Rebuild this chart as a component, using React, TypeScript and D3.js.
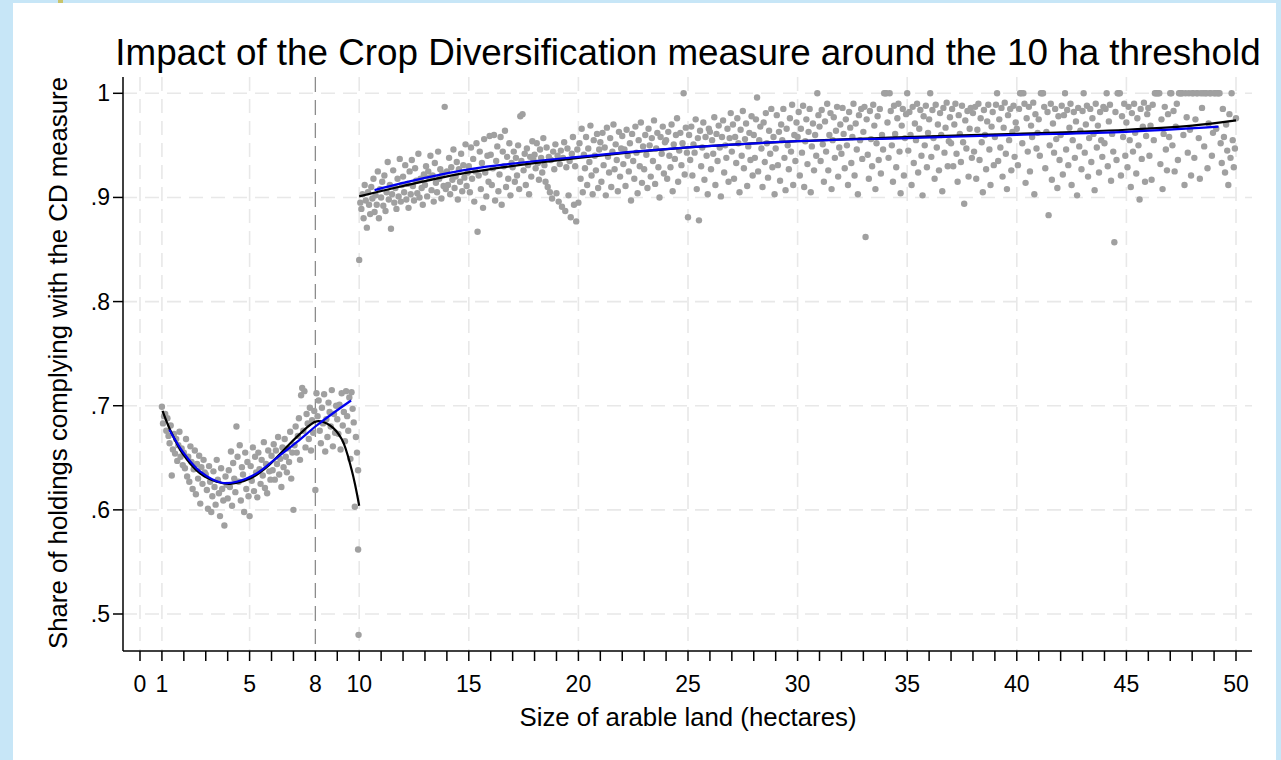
import React from "react";
import * as d3 from "d3";

// ---- data ----
const titleText = "Impact of the Crop Diversification measure around the 10 ha threshold";
const yTitle = "Share of holdings complying with the CD measure";
const xTitle = "Size of arable land (hectares)";

const xTickValues = d3.range(0, 51);
const xTickLabels = [0, 1, 5, 8, 10, 15, 20, 25, 30, 35, 40, 45, 50];
const yTickValues = [0.5, 0.6, 0.7, 0.8, 0.9, 1];
const yTickLabels = [".5", ".6", ".7", ".8", ".9", "1"];
const threshold = 8;

// binned means below 10 ha, x = 1 + 0.05*i, values in thousandths
const leftY = [
  699, 683, 690, 692, 676, 688, 671, 664, 681, 633, 658, 673, 654, 668, 647, 662, 675, 651, 659, 643,
  655, 640, 668, 632, 651, 627, 661, 646, 620, 639, 657, 615, 644, 630, 652, 606, 641, 625, 648, 636,
  634, 619, 601, 642, 627, 598, 613, 637, 622, 605, 648, 629, 616, 594, 640, 620, 609, 585, 632, 624,
  611, 638, 622, 656, 604, 645, 630, 617, 680, 651, 627, 662, 609, 641, 634, 598, 655, 620, 646, 613,
  594, 642, 628, 660, 618, 651, 636, 612, 655, 639, 625, 648, 633, 665, 621, 644, 616, 657, 637, 629,
  652, 638, 663, 629, 657, 644, 670, 634, 649, 622, 660, 641, 668, 651, 636, 659, 646, 675, 630, 655,
  600, 662, 680, 655, 671, 688, 648, 710, 717, 676, 714, 660, 692, 683, 668, 698, 657, 686, 674, 695,
  619, 712, 690, 705, 676, 664, 698, 683, 711, 656, 687, 670, 703, 694, 680, 715, 661, 692, 674, 700,
  687, 673, 701, 658, 712, 681, 694, 666, 714, 690, 676, 708, 649, 713, 697, 684, 603, 670, 655, 638,
];
const edgeX = [9.95, 9.97];
const edgeY = [562, 480];

// binned means from 10 ha, x = 10 + 0.05*i, values in thousandths
const rightY = [
  840, 895, 889, 903, 880, 912, 897, 871, 905, 893, 884, 910, 899, 918, 886, 902, 893, 925, 880, 908,
  900, 915, 892, 921, 887, 905, 934, 898, 912, 870, 903, 926, 895, 909, 889, 918, 901, 937, 896, 912,
  920, 905, 931, 898, 913, 890, 925, 903, 936, 911, 897, 928, 916, 904, 942, 900, 918, 909, 893, 922,
  912, 930, 901, 925, 919, 940, 907, 921, 896, 933, 914, 905, 944, 918, 927, 899, 923, 911, 987, 908,
  925, 912, 938, 903, 929, 917, 946, 909, 920, 934, 898, 927, 915, 942, 906, 931, 919, 951, 911, 924,
  930, 905, 948, 918, 937, 896, 925, 952, 867, 921, 944, 908, 933, 890, 956, 924, 901, 940, 915, 959,
  941, 912, 928, 960, 897, 935, 949, 906, 922, 958, 893, 944, 930, 964, 910, 939, 918, 952, 902, 933,
  929, 944, 915, 938, 921, 950, 908, 978, 935, 980, 926, 942, 912, 947, 931, 903, 939, 920, 954, 936,
  941, 928, 952, 933, 917, 946, 938, 924, 957, 931, 915, 948, 910, 939, 905, 936, 899, 944, 927, 951,
  904, 940, 896, 932, 945, 891, 938, 953, 887, 929, 947, 902, 935, 881, 942, 958, 893, 930, 877, 946,
  895, 952, 918, 966, 905, 941, 928, 958, 912, 947, 934, 969, 921, 903, 955, 940, 926, 961, 909, 946,
  953, 915, 962, 931, 948, 902, 967, 939, 924, 957, 910, 944, 970, 927, 951, 936, 906, 963, 920, 947,
  959, 932, 946, 911, 965, 940, 925, 952, 897, 961, 935, 918, 968, 943, 904, 955, 930, 972, 914, 949,
  927, 960, 941, 909, 966, 950, 920, 957, 935, 974, 913, 947, 962, 929, 900, 958, 942, 968, 923, 953,
  955, 918, 963, 940, 929, 970, 906, 951, 937, 960, 976, 915, 945, 962, 931, 952, 1000, 922, 967, 943,
  881, 960, 936, 968, 921, 951, 943, 975, 908, 957, 878, 964, 930, 948, 972, 917, 958, 940, 903, 966,
  963, 927, 955, 942, 977, 912, 961, 935, 969, 948, 901, 958, 974, 924, 950, 938, 966, 915, 957, 981,
  944, 970, 918, 958, 933, 976, 952, 905, 965, 940, 983, 928, 956, 971, 911, 949, 962, 936, 978, 921,
  960, 938, 975, 996, 925, 955, 968, 947, 910, 972, 934, 981, 952, 919, 964, 942, 985, 929, 958, 903,
  947, 979, 931, 963, 916, 970, 955, 985, 938, 907, 966, 950, 927, 976, 944, 989, 912, 960, 935, 972,
  958, 982, 921, 966, 943, 988, 910, 954, 975, 932, 963, 985, 905, 949, 971, 926, 960, 940, 1000, 979,
  968, 935, 984, 951, 915, 973, 944, 990, 926, 960, 981, 908, 955, 977, 938, 964, 987, 920, 948, 970,
  942, 986, 961, 928, 975, 950, 912, 982, 967, 933, 958, 990, 921, 971, 946, 903, 979, 955, 985, 937,
  963, 987, 862, 975, 941, 918, 983, 956, 930, 989, 969, 908, 952, 978, 936, 985, 923, 960, 946, 1000,
  1000, 1000, 972, 938, 1000, 983, 950, 915, 988, 961, 929, 976, 990, 944, 904, 969, 985, 921, 957, 980,
  1000, 945, 982, 960, 912, 987, 933, 971, 955, 990, 924, 966, 984, 940, 902, 978, 950, 988, 929, 962,
  975, 1000, 939, 984, 957, 918, 989, 948, 970, 926, 981, 960, 906, 986, 943, 967, 991, 930, 954, 977,
  952, 985, 930, 970, 990, 942, 915, 979, 961, 934, 988, 953, 894, 974, 947, 983, 920, 966, 986, 938,
  981, 944, 987, 918, 965, 990, 936, 976, 953, 905, 984, 960, 927, 973, 989, 946, 912, 968, 982, 931,
  958, 989, 1000, 935, 975, 948, 986, 920, 967, 991, 942, 908, 979, 955, 985, 926, 963, 988, 939, 972,
  966, 931, 985, 1000, 1000, 952, 1000, 990, 914, 976, 944, 987, 925, 969, 958, 991, 903, 980, 947, 962,
  975, 940, 1000, 1000, 1000, 987, 928, 963, 982, 883, 950, 990, 917, 971, 943, 985, 956, 909, 978, 936,
  960, 988, 922, 979, 1000, 946, 984, 931, 967, 990, 912, 955, 982, 938, 973, 902, 986, 949, 964, 927,
  983, 1000, 943, 970, 988, 920, 957, 985, 934, 976, 961, 907, 990, 948, 969, 924, 982, 955, 939, 987,
  952, 985, 1000, 930, 973, 989, 916, 961, 944, 857, 982, 936, 1000, 1000, 1000, 921, 978, 958, 990, 940,
  972, 929, 987, 955, 910, 981, 944, 990, 962, 923, 976, 950, 898, 985, 937, 968, 991, 915, 959, 980,
  986, 940, 969, 917, 989, 955, 1000, 1000, 1000, 1000, 1000, 932, 975, 908, 961, 987, 946, 926, 980, 958,
  1000, 1000, 950, 983, 925, 968, 990, 936, 1000, 1000, 1000, 1000, 960, 912, 1000, 977, 943, 1000, 965, 921,
  1000, 1000, 938, 975, 1000, 1000, 957, 918, 1000, 986, 1000, 949, 1000, 1000, 928, 971, 1000, 1000, 940, 962,
  1000, 1000, 966, 1000, 1000, 1000, 952, 933, 985, 958, 924, 970, 945, 912, 980, 938, 1000, 955, 929, 947,
  976,
];

// polynomial fit (black) and local fit (blue)
const blackLeftX = [1.03, 1.37, 1.98, 2.74, 3.5, 4.1, 5.02, 5.78, 6.54, 7.3, 8.06, 8.67, 9.2, 9.66, 10.0];
const blackLeftY = [0.695, 0.677, 0.653, 0.635, 0.627, 0.625, 0.63, 0.641, 0.657, 0.673, 0.685, 0.681, 0.668, 0.638, 0.604];
const blueLeftX = [1.34, 1.98, 2.74, 3.73, 4.41, 5.32, 6.24, 7.15, 8.06, 8.82, 9.63];
const blueLeftY = [0.677, 0.655, 0.637, 0.626, 0.627, 0.635, 0.65, 0.665, 0.681, 0.693, 0.705];
const blackRightX = [10, 12, 15, 20, 25, 30, 35, 40, 45, 48, 50];
const blackRightY = [0.901, 0.911, 0.924, 0.938, 0.948, 0.954, 0.958, 0.961, 0.965, 0.969, 0.974];
const blueRightX = [10.7, 12, 15, 20, 25, 30, 35, 40, 45, 49.2];
const blueRightY = [0.907, 0.914, 0.927, 0.939, 0.948, 0.954, 0.957, 0.96, 0.963, 0.968];

// ---- layout ----
const W = 1281;
const H = 760;
const plot = { left: 123, right: 1252, top: 77, bottom: 651 };
const FONT = "'Liberation Sans', Arial, Helvetica, sans-serif";

export default function App() {
  const x = d3.scaleLinear().domain([0, 50]).range([140, 1236]);
  const y = d3.scaleLinear().domain([0.5, 1]).range([614, 93.3]);

  const leftPts = leftY.map((v, i) => ({ x: 1 + 0.05 * i, y: v / 1000 }));
  const rightPts = rightY.map((v, i) => ({ x: 10 + 0.05 * i, y: v / 1000 }));
  const edgePts = edgeX.map((v, i) => ({ x: v, y: edgeY[i] / 1000 }));
  const pts = [...leftPts, ...edgePts, ...rightPts];

  const line = d3
    .line<[number, number]>()
    .x((d) => x(d[0]))
    .y((d) => y(d[1]))
    .curve(d3.curveCatmullRom.alpha(0.5));
  const mk = (xs: number[], ys: number[]) => line(xs.map((v, i) => [v, ys[i]] as [number, number])) || "";

  return (
    <svg
      width={W}
      height={H}
      style={{ position: "absolute", left: 0, top: 0, display: "block" }}
      fontFamily={FONT}
    >
      <rect x={0} y={0} width={W} height={H} fill="#c7e6f7" />
      <rect x={58} y={0} width={5} height={4} fill="#c9c46a" />
      <rect x={13} y={3} width={1263} height={H - 3} fill="#ffffff" />

      {/* grid */}
      {yTickValues.map((v) => (
        <line
          key={"hg" + v}
          x1={plot.left}
          x2={plot.right}
          y1={y(v)}
          y2={y(v)}
          stroke="#e8e8e8"
          strokeWidth={1.6}
          strokeDasharray="14 8"
        />
      ))}
      {xTickLabels
        .filter((v) => v !== threshold)
        .map((v) => (
          <line
            key={"vg" + v}
            x1={x(v)}
            x2={x(v)}
            y1={plot.top}
            y2={plot.bottom}
            stroke="#e8e8e8"
            strokeWidth={1.6}
            strokeDasharray="14 8"
          />
        ))}
      <line
        x1={x(threshold)}
        x2={x(threshold)}
        y1={plot.top}
        y2={plot.bottom}
        stroke="#8c8c8c"
        strokeWidth={1.3}
        strokeDasharray="15 8"
      />

      {/* points */}
      {pts.map((p, i) => (
        <circle key={i} cx={x(p.x)} cy={y(p.y)} r={3.2} fill="#a0a0a0" />
      ))}

      {/* fitted lines */}
      <path d={mk(blackLeftX, blackLeftY)} fill="none" stroke="#000" strokeWidth={2.2} />
      <path d={mk(blueLeftX, blueLeftY)} fill="none" stroke="#0000f0" strokeWidth={2.2} />
      <path d={mk(blackRightX, blackRightY)} fill="none" stroke="#000" strokeWidth={2.2} />
      <path d={mk(blueRightX, blueRightY)} fill="none" stroke="#0000f0" strokeWidth={2.2} />

      {/* axes */}
      <line x1={plot.left} x2={plot.left} y1={plot.top} y2={plot.bottom} stroke="#000" strokeWidth={1.5} />
      <line x1={plot.left} x2={plot.right} y1={plot.bottom} y2={plot.bottom} stroke="#000" strokeWidth={1.5} />
      {xTickValues.map((v) => (
        <line key={"xt" + v} x1={x(v)} x2={x(v)} y1={plot.bottom} y2={plot.bottom + 10} stroke="#000" strokeWidth={1.5} />
      ))}
      {xTickLabels.map((v) => (
        <text key={"xl" + v} x={x(v)} y={692} textAnchor="middle" fontSize={23} fill="#000">
          {v}
        </text>
      ))}
      {yTickValues.map((v, i) => (
        <g key={"yt" + v}>
          <line x1={plot.left - 10} x2={plot.left} y1={y(v)} y2={y(v)} stroke="#000" strokeWidth={1.5} />
          <text x={plot.left - 13} y={y(v)} dy="0.35em" textAnchor="end" fontSize={23} fill="#000">
            {yTickLabels[i]}
          </text>
        </g>
      ))}

      {/* titles */}
      <text x={688} y={65} textAnchor="middle" fontSize={36.8} fill="#000">
        {titleText}
      </text>
      <text x={688} y={726} textAnchor="middle" fontSize={25.8} fill="#000">
        {xTitle}
      </text>
      <text
        transform={`translate(67, 363) rotate(-90)`}
        textAnchor="middle"
        fontSize={25.8}
        fill="#000"
      >
        {yTitle}
      </text>
    </svg>
  );
}
